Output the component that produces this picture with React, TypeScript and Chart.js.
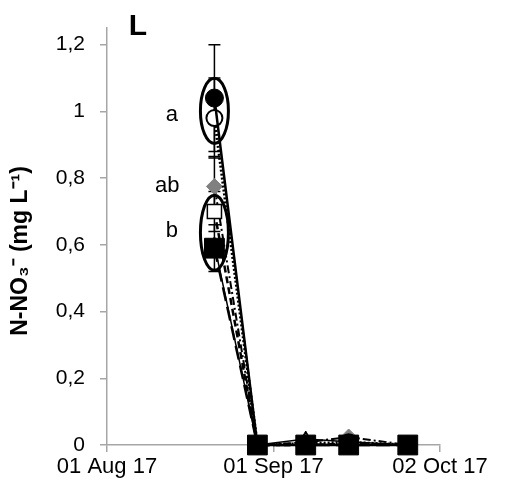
import React, { useEffect, useRef } from 'react';
import { Chart, registerables } from 'chart.js';

Chart.register(...registerables);

// Days counted from 01 Aug 2017
const sampleDays = [20, 28, 37, 45, 56];
const xTickDays = [0, 31, 62];
const xTickLabels = ['01 Aug 17', '01 Sep 17', '02 Oct 17'];
const yTickValues = [0, 0.2, 0.4, 0.6, 0.8, 1, 1.2];

const filledSquare = [0.59, 0, 0, 0, 0];
const filledSquareErr = [0.07, 0, 0, 0, 0];
const filledCircle = [1.04, 0, 0, 0, 0];
const filledCircleErr = [0.16, 0, 0, 0, 0];
const openCircle = [0.98, 0, 0.004, 0.008, 0];
const openCircleErr = [0.12, 0, 0, 0, 0];
const openSquare = [0.7, 0, 0, 0.004, 0];
const openSquareErr = [0.06, 0, 0, 0, 0];
const diamond = [0.775, 0, 0.008, 0.024, 0];
const diamondErr = [0.09, 0, 0, 0, 0];
const triangle = [0.6, 0, 0.018, 0.01, 0];

const groupLabels = ['a', 'ab', 'b'];
const groupLabelDay = [12.1, 11.2, 12.1];
const groupLabelY = [0.988, 0.778, 0.641];

// ellipses around significance groups: [top value, bottom value]
const ellipseTop = [1.099, 0.749];
const ellipseBottom = [0.904, 0.524];
const ellipseDay = 20;

const panelLetter = 'L';
const yTitle = 'N-NO\u2083\u207B (mg L\u207B\u00B9)';

const FONT = '"Liberation Sans", Arial, sans-serif';

const pts = (vals: number[]) => vals.map((v, i) => ({ x: sampleDays[i], y: v }));

const errorSeries = [
  { vals: filledSquare, err: filledSquareErr },
  { vals: filledCircle, err: filledCircleErr },
  { vals: openCircle, err: openCircleErr },
  { vals: openSquare, err: openSquareErr },
  { vals: diamond, err: diamondErr },
];

const overlay = {
  id: 'overlay',
  beforeDatasetsDraw(chart: any) {
    const { ctx } = chart;
    const xs = chart.scales.x;
    const ys = chart.scales.y;
    ctx.save();
    ctx.strokeStyle = '#000';
    ctx.lineWidth = 1.5;
    errorSeries.forEach((s) => {
      s.vals.forEach((v, i) => {
        const e = s.err[i];
        if (!e) return;
        const x = xs.getPixelForValue(sampleDays[i]);
        const yt = ys.getPixelForValue(v + e);
        const yb = ys.getPixelForValue(v - e);
        ctx.beginPath();
        ctx.moveTo(x, yt);
        ctx.lineTo(x, yb);
        ctx.moveTo(x - 6, yt);
        ctx.lineTo(x + 6, yt);
        ctx.moveTo(x - 6, yb);
        ctx.lineTo(x + 6, yb);
        ctx.stroke();
      });
    });
    ctx.restore();
  },
  afterDatasetsDraw(chart: any) {
    const { ctx } = chart;
    const xs = chart.scales.x;
    const ys = chart.scales.y;
    ctx.save();
    ctx.strokeStyle = '#000';
    ctx.lineWidth = 3;
    ellipseTop.forEach((t, i) => {
      const x = xs.getPixelForValue(ellipseDay);
      const y1 = ys.getPixelForValue(t);
      const y2 = ys.getPixelForValue(ellipseBottom[i]);
      ctx.beginPath();
      ctx.ellipse(x, (y1 + y2) / 2, 14, Math.abs(y2 - y1) / 2, 0, 0, Math.PI * 2);
      ctx.stroke();
    });
    ctx.fillStyle = '#000';
    ctx.font = `22px ${FONT}`;
    ctx.textAlign = 'center';
    ctx.textBaseline = 'middle';
    groupLabels.forEach((t, i) => {
      ctx.fillText(t, xs.getPixelForValue(groupLabelDay[i]), ys.getPixelForValue(groupLabelY[i]));
    });
    ctx.restore();
  },
  afterDraw(chart: any) {
    const { ctx } = chart;
    ctx.save();
    ctx.fillStyle = '#000';
    ctx.font = `bold 30px ${FONT}`;
    ctx.textAlign = 'center';
    ctx.textBaseline = 'middle';
    ctx.fillText(panelLetter, 138, 27);
    ctx.translate(21, 251);
    ctx.rotate(-Math.PI / 2);
    ctx.font = `bold 23px ${FONT}`;
    ctx.fillText(yTitle, 0, 0);
    ctx.restore();
  },
};

export default function App() {
  const ref = useRef<HTMLCanvasElement>(null);
  useEffect(() => {
    const canvas = ref.current!;
    const axisColor = '#a6a6a6';
    const chart = new Chart(canvas, {
      type: 'line',
      data: {
        datasets: [
          {
            data: pts(filledSquare),
            borderColor: '#000',
            backgroundColor: '#000',
            borderWidth: 2.5,
            borderDash: [14, 6],
            pointStyle: 'rect',
            pointRadius: 14,
            pointBorderWidth: 1,
            clip: false,
          },
          {
            data: pts(filledCircle),
            borderColor: '#000',
            backgroundColor: '#000',
            borderWidth: 2.5,
            pointStyle: 'circle',
            pointRadius: 9,
            pointBorderWidth: 1,
            clip: false,
          },
          {
            data: pts(openCircle),
            borderColor: '#000',
            backgroundColor: '#fff',
            borderWidth: 3,
            borderDash: [2, 2],
            pointStyle: 'circle',
            pointRadius: 8,
            pointBorderWidth: 2,
            clip: false,
          },
          {
            data: pts(openSquare),
            borderColor: '#000',
            backgroundColor: '#fff',
            borderWidth: 2.5,
            borderDash: [7, 4],
            pointStyle: 'rect',
            pointRadius: 10,
            pointBorderWidth: 1.5,
            clip: false,
          },
          {
            data: pts(diamond),
            borderColor: '#000',
            backgroundColor: '#808080',
            borderWidth: 2,
            borderDash: [8, 3, 2, 3],
            pointStyle: 'rectRot',
            pointRadius: 8,
            pointBorderColor: '#808080',
            pointBorderWidth: 1,
            clip: false,
          },
          {
            data: pts(triangle),
            borderColor: '#000',
            backgroundColor: '#000',
            borderWidth: 1.5,
            pointStyle: 'triangle',
            pointRadius: 8,
            pointBorderWidth: 1,
            clip: false,
          },
        ],
      },
      options: {
        responsive: false,
        animation: false,
        events: [],
        layout: { padding: { top: 28, right: 68, left: 0, bottom: 0 } },
        plugins: { legend: { display: false }, tooltip: { enabled: false } },
        scales: {
          x: {
            type: 'linear',
            min: 0,
            max: 62,
            afterBuildTicks: (s: any) => {
              s.ticks = xTickDays.map((v) => ({ value: v }));
            },
            afterFit: (s: any) => {
              s.height = 48;
            },
            ticks: {
              callback: (v: any) => xTickLabels[xTickDays.indexOf(Number(v))] ?? '',
              color: '#000',
              font: { family: FONT, size: 22 },
              padding: 2,
              maxRotation: 0,
              autoSkip: false,
            },
            grid: { drawOnChartArea: false, tickLength: 7, color: axisColor, lineWidth: 1.5 },
            border: { color: axisColor, width: 1.5 },
          },
          y: {
            type: 'linear',
            min: 0,
            max: 1.25,
            afterBuildTicks: (s: any) => {
              s.ticks = yTickValues.map((v) => ({ value: v }));
            },
            afterFit: (s: any) => {
              s.width = 107;
            },
            ticks: {
              callback: (v: any) => String(Math.round(Number(v) * 10) / 10).replace('.', ','),
              color: '#000',
              font: { family: FONT, size: 21 },
              padding: 15,
            },
            grid: { drawOnChartArea: false, tickLength: 7, color: axisColor, lineWidth: 1.5 },
            border: { color: axisColor, width: 1.5 },
          },
        },
      },
      plugins: [overlay],
    } as any);
    return () => chart.destroy();
  }, []);
  return (
    <div style={{ position: 'fixed', left: 0, top: 0, width: 508, height: 493, background: '#fff' }}>
      <canvas ref={ref} width={508} height={493} style={{ width: 508, height: 493 }} />
    </div>
  );
}
